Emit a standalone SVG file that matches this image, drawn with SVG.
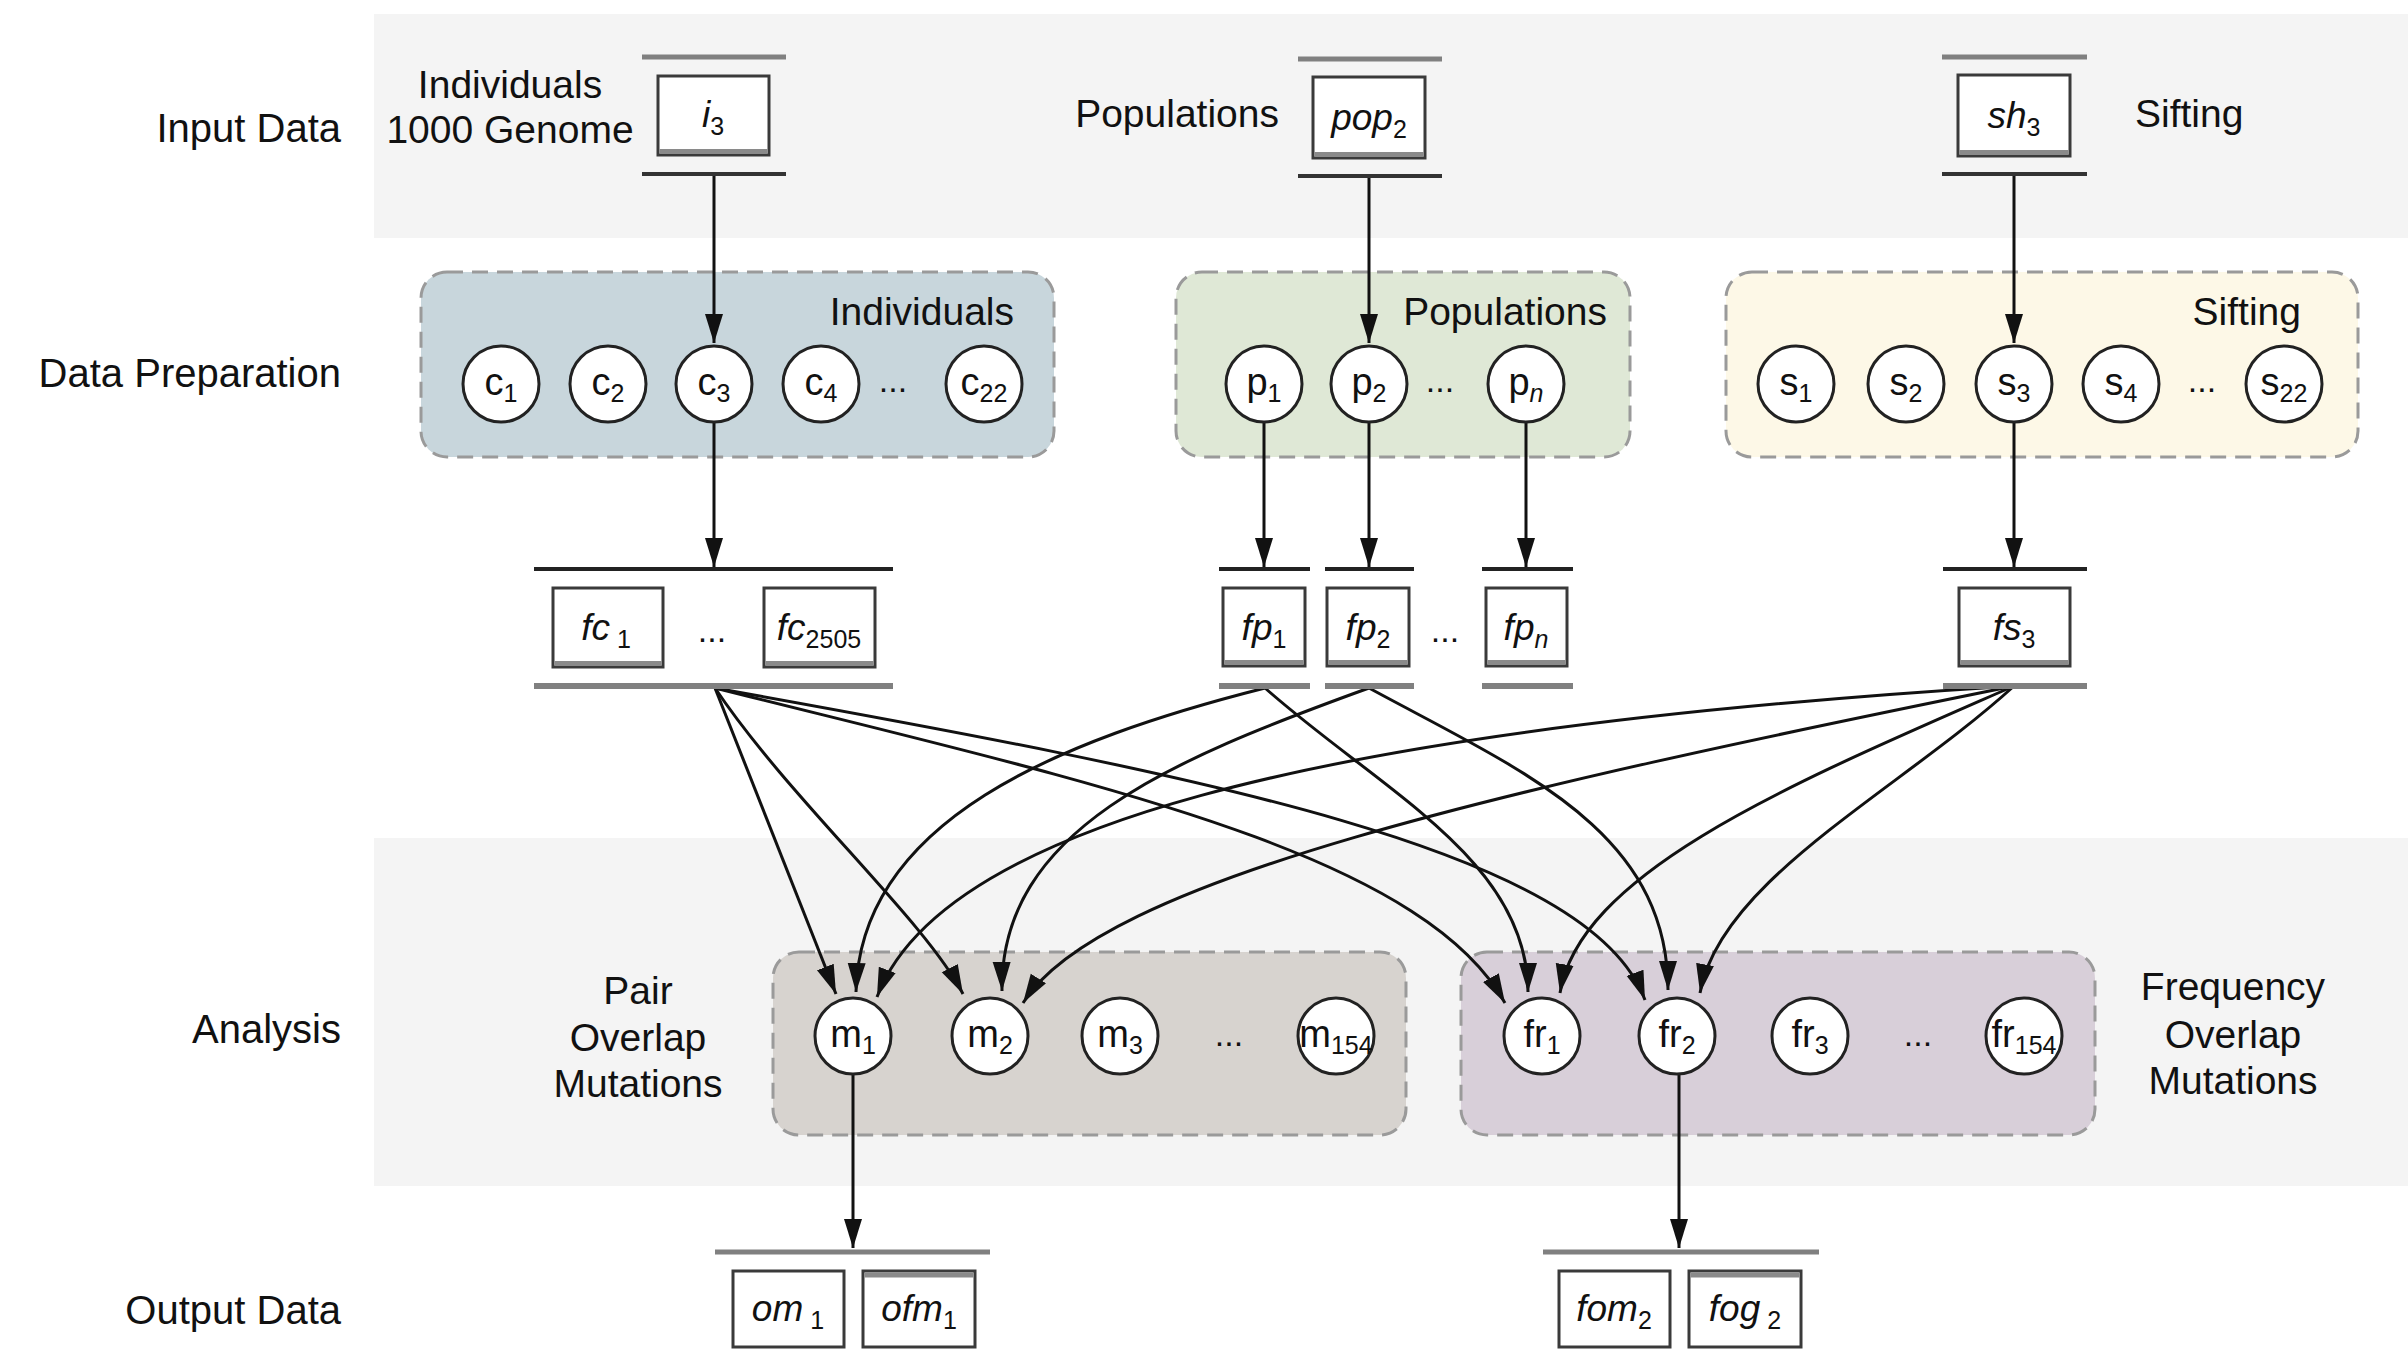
<svg xmlns="http://www.w3.org/2000/svg" width="2408" height="1364" viewBox="0 0 2408 1364">
<defs>
  <marker id="arrow" markerUnits="userSpaceOnUse" markerWidth="32" markerHeight="22" refX="29" refY="11" orient="auto">
    <path d="M0,2 L29,11 L0,20 z" fill="#111"/>
  </marker>
</defs>
<style>
  text { font-family: "Liberation Sans", Arial, Helvetica, sans-serif; fill: #111; }
  .row { font-size: 40px; text-anchor: end; }
  .lbl { font-size: 39px; }
  .mid { text-anchor: middle; }
  .end { text-anchor: end; }
  .band { fill: #f4f4f4; }
  .cluster { stroke: #9a9a9a; stroke-width: 3; stroke-dasharray: 16 9; }
  .circ circle { fill: #fff; stroke: #222; stroke-width: 3; }
  .ct { font-size: 38px; text-anchor: middle; }
  .sub { font-size: 25px; }
  .up { font-style: normal; }
  .bt { font-size: 37px; font-style: italic; text-anchor: middle; }
  .box { fill: #fff; stroke: #3a3a3a; stroke-width: 3; }
  .shade { fill: #8a8a8a; }
  .ltop { stroke: #808080; stroke-width: 5; }
  .lbot { stroke: #333; stroke-width: 4; }
  .ldark { stroke: #222; stroke-width: 4; }
  .lgray { stroke: #808080; stroke-width: 6; }
  .dots { font-size: 34px; text-anchor: middle; }
  .edge { fill: none; stroke: #111; stroke-width: 3; marker-end: url(#arrow); }
</style>

<!-- background bands -->
<rect class="band" x="374" y="14" width="2034" height="224"/>
<rect class="band" x="374" y="838" width="2034" height="348"/>

<!-- row titles -->
<g id="row-labels">
  <text class="row" x="341" y="142">Input Data</text>
  <text class="row" x="341" y="387">Data Preparation</text>
  <text class="row" x="341" y="1043">Analysis</text>
  <text class="row" x="341" y="1324">Output Data</text>
</g>

<!-- clusters -->
<g id="cluster-individuals">
  <rect class="cluster" x="421" y="272" width="633" height="185" rx="26" fill="#c8d6dc"/>
  <text class="lbl end" x="1014" y="325">Individuals</text>
</g>
<g id="cluster-populations">
  <rect class="cluster" x="1176" y="272" width="454" height="185" rx="26" fill="#dfe8d6"/>
  <text class="lbl end" x="1607" y="325">Populations</text>
</g>
<g id="cluster-sifting">
  <rect class="cluster" x="1726" y="272" width="632" height="185" rx="26" fill="#fdf8e7"/>
  <text class="lbl end" x="2301" y="325">Sifting</text>
</g>
<g id="cluster-pair">
  <rect class="cluster" x="773" y="952" width="633" height="183" rx="26" fill="#d7d3cf"/>
</g>
<g id="cluster-frequency">
  <rect class="cluster" x="1461" y="952" width="634" height="183" rx="26" fill="#d8cfd9"/>
</g>

<!-- side captions -->
<g id="captions">
  <text class="lbl mid" x="510" y="98">Individuals</text>
  <text class="lbl mid" x="510" y="143">1000 Genome</text>
  <text class="lbl end" x="1279" y="127">Populations</text>
  <text class="lbl" x="2135" y="127">Sifting</text>
  <text class="lbl mid" x="638" y="1004">Pair</text>
  <text class="lbl mid" x="638" y="1051">Overlap</text>
  <text class="lbl mid" x="638" y="1097">Mutations</text>
  <text class="lbl mid" x="2233" y="1000">Frequency</text>
  <text class="lbl mid" x="2233" y="1048">Overlap</text>
  <text class="lbl mid" x="2233" y="1094">Mutations</text>
</g>

<!-- connectors -->
<g id="connectors">
  <path class="edge" d="M714,175 L714,343"/>
  <path class="edge" d="M1369,178 L1369,343"/>
  <path class="edge" d="M2014,175 L2014,343"/>
  <path class="edge" d="M714,422 L714,567"/>
  <path class="edge" d="M1264,422 L1264,567"/>
  <path class="edge" d="M1369,422 L1369,567"/>
  <path class="edge" d="M1526,422 L1526,567"/>
  <path class="edge" d="M2014,422 L2014,567"/>

  <path class="edge" d="M715,688 L836,994"/>
  <path class="edge" d="M715,688 C790,800 925,920 963,994"/>
  <path class="edge" d="M715,688 C1080,780 1420,850 1505,1003"/>
  <path class="edge" d="M715,688 C1200,775 1590,850 1645,1000"/>
  <path class="edge" d="M1265,688 C1060,740 860,820 856,992"/>
  <path class="edge" d="M1265,688 C1380,790 1528,860 1528,992"/>
  <path class="edge" d="M1369,688 C1170,760 1000,830 1002,991"/>
  <path class="edge" d="M1369,688 C1520,770 1668,830 1668,990"/>
  <path class="edge" d="M2014,686 C1300,730 940,830 877,997"/>
  <path class="edge" d="M2014,686 C1500,790 1100,880 1023,1003"/>
  <path class="edge" d="M2014,686 C1800,780 1580,870 1560,993"/>
  <path class="edge" d="M2014,686 C1900,790 1720,880 1700,993"/>

  <path class="edge" d="M853,1074 L853,1248"/>
  <path class="edge" d="M1679,1074 L1679,1248"/>
</g>

<!-- input stores -->
<g id="i3">
  <line class="ltop" x1="642" y1="57" x2="786" y2="57"/>
  <rect class="box" x="658" y="76" width="111" height="79"/>
  <rect class="shade" x="659.5" y="149" width="108" height="5"/>
  <line class="lbot" x1="642" y1="174" x2="786" y2="174"/>
  <text class="bt" x="713" y="127">i<tspan class="sub up" dy="8">3</tspan></text>
</g>
<g id="pop2">
  <line class="ltop" x1="1298" y1="59" x2="1442" y2="59"/>
  <rect class="box" x="1313" y="77" width="112" height="81"/>
  <rect class="shade" x="1314.5" y="152" width="109" height="5"/>
  <line class="lbot" x1="1298" y1="176" x2="1442" y2="176"/>
  <text class="bt" x="1369" y="130">pop<tspan class="sub up" dy="8">2</tspan></text>
</g>
<g id="sh3">
  <line class="ltop" x1="1942" y1="57" x2="2087" y2="57"/>
  <rect class="box" x="1958" y="75" width="112" height="81"/>
  <rect class="shade" x="1959.5" y="150" width="109" height="5"/>
  <line class="lbot" x1="1942" y1="174" x2="2087" y2="174"/>
  <text class="bt" x="2014" y="128">sh<tspan class="sub up" dy="8">3</tspan></text>
</g>

<!-- preparation nodes -->
<g id="c1" class="circ"><circle cx="501" cy="384" r="38"/><text class="ct" x="501" y="395">c<tspan class="sub" dy="7">1</tspan></text></g>
<g id="c2" class="circ"><circle cx="608" cy="384" r="38"/><text class="ct" x="608" y="395">c<tspan class="sub" dy="7">2</tspan></text></g>
<g id="c3" class="circ"><circle cx="714" cy="384" r="38"/><text class="ct" x="714" y="395">c<tspan class="sub" dy="7">3</tspan></text></g>
<g id="c4" class="circ"><circle cx="821" cy="384" r="38"/><text class="ct" x="821" y="395">c<tspan class="sub" dy="7">4</tspan></text></g>
<text class="dots" x="893" y="392">...</text>
<g id="c22" class="circ"><circle cx="984" cy="384" r="38"/><text class="ct" x="984" y="395">c<tspan class="sub" dy="7">22</tspan></text></g>

<g id="p1" class="circ"><circle cx="1264" cy="384" r="38"/><text class="ct" x="1264" y="395">p<tspan class="sub" dy="7">1</tspan></text></g>
<g id="p2" class="circ"><circle cx="1369" cy="384" r="38"/><text class="ct" x="1369" y="395">p<tspan class="sub" dy="7">2</tspan></text></g>
<text class="dots" x="1440" y="392">...</text>
<g id="pn" class="circ"><circle cx="1526" cy="384" r="38"/><text class="ct" x="1526" y="395">p<tspan class="sub" dy="7" font-style="italic">n</tspan></text></g>

<g id="s1" class="circ"><circle cx="1796" cy="384" r="38"/><text class="ct" x="1796" y="395">s<tspan class="sub" dy="7">1</tspan></text></g>
<g id="s2" class="circ"><circle cx="1906" cy="384" r="38"/><text class="ct" x="1906" y="395">s<tspan class="sub" dy="7">2</tspan></text></g>
<g id="s3" class="circ"><circle cx="2014" cy="384" r="38"/><text class="ct" x="2014" y="395">s<tspan class="sub" dy="7">3</tspan></text></g>
<g id="s4" class="circ"><circle cx="2121" cy="384" r="38"/><text class="ct" x="2121" y="395">s<tspan class="sub" dy="7">4</tspan></text></g>
<text class="dots" x="2202" y="392">...</text>
<g id="s22" class="circ"><circle cx="2284" cy="384" r="38"/><text class="ct" x="2284" y="395">s<tspan class="sub" dy="7">22</tspan></text></g>

<!-- filtered stores -->
<g id="fc">
  <line class="ldark" x1="534" y1="569" x2="893" y2="569"/>
  <rect class="box" x="553" y="588" width="110" height="79"/>
  <rect class="shade" x="554.5" y="661" width="107" height="5"/>
  <text class="bt" x="606" y="640">fc<tspan class="sub up" dy="8"> 1</tspan></text>
  <text class="dots" x="712" y="642">...</text>
  <rect class="box" x="764" y="588" width="111" height="79"/>
  <rect class="shade" x="765.5" y="661" width="108" height="5"/>
  <text class="bt" x="819" y="640">fc<tspan class="sub up" dy="8">2505</tspan></text>
  <line class="lgray" x1="534" y1="686" x2="893" y2="686"/>
</g>
<g id="fp1">
  <line class="ldark" x1="1219" y1="569" x2="1310" y2="569"/>
  <rect class="box" x="1223" y="588" width="82" height="78"/>
  <rect class="shade" x="1224.5" y="660" width="79" height="5"/>
  <text class="bt" x="1264" y="640">fp<tspan class="sub up" dy="8">1</tspan></text>
  <line class="lgray" x1="1219" y1="686" x2="1310" y2="686"/>
</g>
<g id="fp2">
  <line class="ldark" x1="1325" y1="569" x2="1414" y2="569"/>
  <rect class="box" x="1327" y="588" width="82" height="78"/>
  <rect class="shade" x="1328.5" y="660" width="79" height="5"/>
  <text class="bt" x="1368" y="640">fp<tspan class="sub up" dy="8">2</tspan></text>
  <line class="lgray" x1="1325" y1="686" x2="1414" y2="686"/>
</g>
<text class="dots" x="1445" y="642">...</text>
<g id="fpn">
  <line class="ldark" x1="1482" y1="569" x2="1573" y2="569"/>
  <rect class="box" x="1486" y="588" width="81" height="78"/>
  <rect class="shade" x="1487.5" y="660" width="78" height="5"/>
  <text class="bt" x="1526" y="640">fp<tspan class="sub" dy="8">n</tspan></text>
  <line class="lgray" x1="1482" y1="686" x2="1573" y2="686"/>
</g>
<g id="fs3">
  <line class="ldark" x1="1943" y1="569" x2="2087" y2="569"/>
  <rect class="box" x="1959" y="588" width="111" height="78"/>
  <rect class="shade" x="1960.5" y="660" width="108" height="5"/>
  <text class="bt" x="2014" y="640">fs<tspan class="sub up" dy="8">3</tspan></text>
  <line class="lgray" x1="1943" y1="686" x2="2087" y2="686"/>
</g>

<!-- analysis nodes -->
<g id="m1" class="circ"><circle cx="853" cy="1036" r="38"/><text class="ct" x="853" y="1047">m<tspan class="sub" dy="7">1</tspan></text></g>
<g id="m2" class="circ"><circle cx="990" cy="1036" r="38"/><text class="ct" x="990" y="1047">m<tspan class="sub" dy="7">2</tspan></text></g>
<g id="m3" class="circ"><circle cx="1120" cy="1036" r="38"/><text class="ct" x="1120" y="1047">m<tspan class="sub" dy="7">3</tspan></text></g>
<text class="dots" x="1229" y="1046">...</text>
<g id="m154" class="circ"><circle cx="1336" cy="1036" r="38"/><text class="ct" x="1336" y="1047">m<tspan class="sub" dy="7">154</tspan></text></g>

<g id="fr1" class="circ"><circle cx="1542" cy="1036" r="38"/><text class="ct" x="1542" y="1047">fr<tspan class="sub" dy="7">1</tspan></text></g>
<g id="fr2" class="circ"><circle cx="1677" cy="1036" r="38"/><text class="ct" x="1677" y="1047">fr<tspan class="sub" dy="7">2</tspan></text></g>
<g id="fr3" class="circ"><circle cx="1810" cy="1036" r="38"/><text class="ct" x="1810" y="1047">fr<tspan class="sub" dy="7">3</tspan></text></g>
<text class="dots" x="1918" y="1046">...</text>
<g id="fr154" class="circ"><circle cx="2024" cy="1036" r="38"/><text class="ct" x="2024" y="1047">fr<tspan class="sub" dy="7">154</tspan></text></g>

<!-- output stores -->
<g id="om">
  <line class="ltop" x1="715" y1="1252" x2="990" y2="1252"/>
  <rect class="box" x="733" y="1271" width="111" height="76"/>
  <text class="bt" x="788" y="1321">om<tspan class="sub up" dy="8"> 1</tspan></text>
  <rect class="box" x="863" y="1271" width="112" height="76"/>
  <rect class="shade" x="864.5" y="1272.5" width="109" height="5"/>
  <text class="bt" x="919" y="1321">ofm<tspan class="sub up" dy="8">1</tspan></text>
</g>
<g id="fom">
  <line class="ltop" x1="1543" y1="1252" x2="1819" y2="1252"/>
  <rect class="box" x="1559" y="1271" width="111" height="76"/>
  <text class="bt" x="1614" y="1321">fom<tspan class="sub up" dy="8">2</tspan></text>
  <rect class="box" x="1689" y="1271" width="112" height="76"/>
  <rect class="shade" x="1690.5" y="1272.5" width="109" height="5"/>
  <text class="bt" x="1745" y="1321">fog<tspan class="sub up" dy="8"> 2</tspan></text>
</g>
</svg>
